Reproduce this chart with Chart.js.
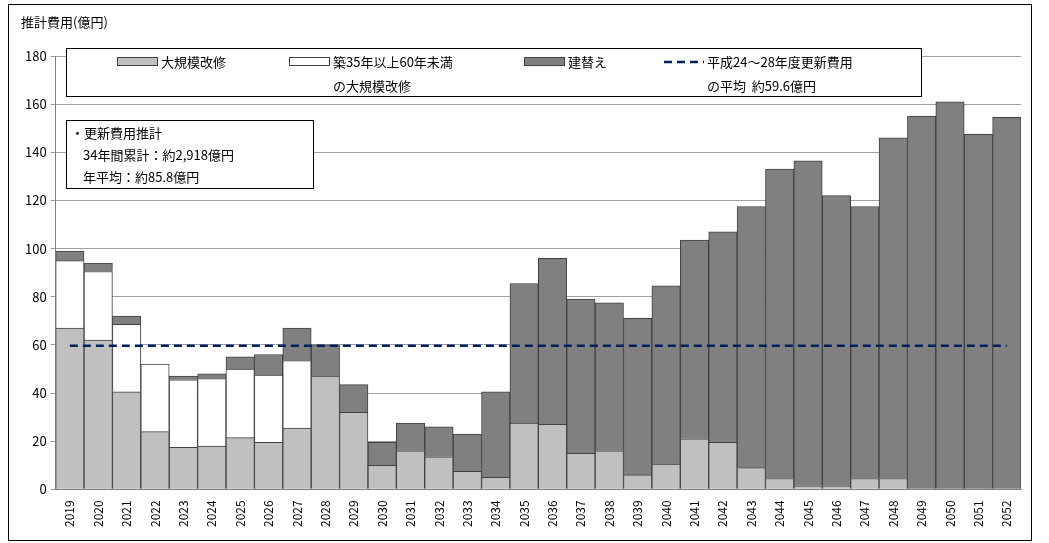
<!DOCTYPE html>
<html><head><meta charset="utf-8">
<script src="https://cdn.jsdelivr.net/npm/chart.js@4"></script>
<style>
html,body{margin:0;padding:0;background:#fff}
#wrap{position:absolute;left:8px;top:4px;width:1022px;height:535px;border:1px solid #000}
</style></head><body>
<div id="wrap"><canvas id="c"></canvas></div>
<script>
// 年度
const years = ['2019','2020','2021','2022','2023','2024','2025','2026','2027','2028','2029','2030','2031','2032','2033','2034','2035','2036','2037','2038','2039','2040','2041','2042','2043','2044','2045','2046','2047','2048','2049','2050','2051','2052'];
const largeRepair = [67,62,40.5,24,17.5,18,21.5,19.5,25.5,47,32,10,16,13.5,7.5,5,27.5,27,15,16,6,10.5,21,19.5,9,4.5,1.5,1.5,4.5,4.5,0,0,0,0];
const repair35to60 = [28,28.5,28,28,28,28,28.5,28,28,0,0,0,0,0,0,0,0,0,0,0,0,0,0,0,0,0,0,0,0,0,0,0,0,0];
const rebuild = [4,3.5,3.5,0,1.5,2,5,8.5,13.5,13,11.5,9.5,11.5,12.5,15.5,35.5,58,69,64,61.5,65,74,82.5,87.5,108.5,128.5,135,120.5,113,141.5,155,161,147.5,154.5];
const avg = 59.6;
const yTicks = [0,20,40,60,80,100,120,140,160,180];

const FONT = '"Noto Sans CJK JP", sans-serif';

const boxes = {
  id: 'boxes',
  afterDraw(chart) {
    const ctx = chart.ctx;
    ctx.save();
    ctx.fillStyle = '#000';
    ctx.font = '13px ' + FONT;
    ctx.textBaseline = 'middle';
    ctx.fillText('推計費用(億円)', 12, 17);
    // 凡例
    ctx.fillStyle = '#fff'; ctx.strokeStyle = '#000'; ctx.lineWidth = 1;
    ctx.fillRect(57.5, 43.5, 855, 48); ctx.strokeRect(57.5, 43.5, 855, 48);
    const items = [
      {x: 108, fill: '#c0c0c0', t: ['大規模改修']},
      {x: 280, fill: '#ffffff', t: ['築35年以上60年未満', 'の大規模改修']},
      {x: 515, fill: '#808080', t: ['建替え']},
    ];
    items.forEach(it => {
      ctx.fillStyle = it.fill; ctx.strokeStyle = '#404040';
      ctx.fillRect(it.x + .5, 52.5, 40, 8); ctx.strokeRect(it.x + .5, 52.5, 40, 8);
      ctx.fillStyle = '#000';
      ctx.fillText(it.t[0], it.x + 44, 57);
      if (it.t[1]) ctx.fillText(it.t[1], it.x + 44, 81);
    });
    ctx.strokeStyle = '#002060'; ctx.lineWidth = 2.5; ctx.setLineDash([8,5]);
    ctx.beginPath(); ctx.moveTo(655, 57); ctx.lineTo(695, 57); ctx.stroke();
    ctx.setLineDash([]);
    ctx.fillText('平成24～28年度更新費用', 698, 57);
    ctx.fillText('の平均  約59.6億円', 698, 81);
    // 注記
    ctx.fillStyle = '#fff'; ctx.strokeStyle = '#000'; ctx.lineWidth = 1;
    ctx.fillRect(57.5, 115.5, 247, 68); ctx.strokeRect(57.5, 115.5, 247, 68);
    ctx.fillStyle = '#000';
    ctx.fillText('・更新費用推計', 62, 128);
    ctx.fillText('34年間累計：約2,918億円', 74, 150);
    ctx.fillText('年平均：約85.8億円', 74, 172);
    ctx.restore();
  }
};

new Chart(document.getElementById('c'), {
  data: {
    labels: years,
    datasets: [
      {type: 'line', label: '平均', data: years.map(() => avg), borderColor: '#002060', borderWidth: 2.5, borderDash: [8,5], pointRadius: 0, order: 0},
      {type: 'bar', label: '大規模改修', data: largeRepair, backgroundColor: '#c0c0c0', borderColor: '#404040', borderWidth: 1, order: 1},
      {type: 'bar', label: '築35年以上60年未満の大規模改修', data: repair35to60, backgroundColor: '#ffffff', borderColor: '#404040', borderWidth: 1, order: 1},
      {type: 'bar', label: '建替え', data: rebuild, backgroundColor: '#808080', borderColor: '#404040', borderWidth: 1, order: 1}
    ]
  },
  options: {
    responsive: true,
    maintainAspectRatio: false,
    animation: false,
    layout: {padding: {top: 51, right: 10, left: 12, bottom: 10}},
    datasets: {bar: {categoryPercentage: 1, barPercentage: 1}},
    plugins: {legend: {display: false}, tooltip: {enabled: false}},
    scales: {
      x: {
        stacked: true,
        grid: {display: false},
        border: {color: '#808080'},
        ticks: {color: '#000', font: {family: FONT, size: 12}, minRotation: 90, maxRotation: 90, autoSkip: false}
      },
      y: {
        stacked: true,
        min: 0, max: 180,
        afterBuildTicks: axis => { axis.ticks = yTicks.map(v => ({value: v})); },
        grid: {color: '#a0a0a0', drawTicks: true, tickLength: 5},
        border: {color: '#808080'},
        ticks: {color: '#000', font: {family: FONT, size: 13}, padding: 4}
      }
    }
  },
  plugins: [boxes]
});
</script>
</body></html>
